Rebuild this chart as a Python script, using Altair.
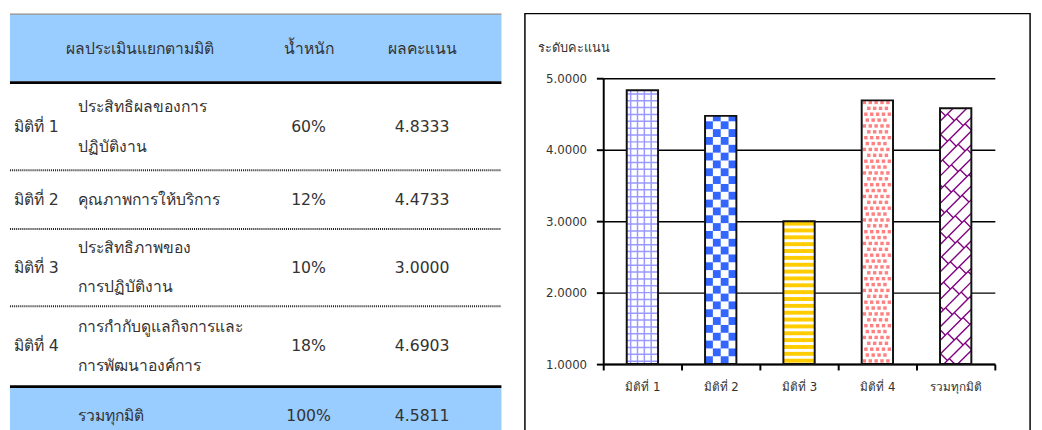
import json
import numpy as np
import pandas as pd
import altair as alt

# ---------------- data ----------------
categories = ["มิติที่ 1", "มิติที่ 2", "มิติที่ 3", "มิติที่ 4", "รวมทุกมิติ"]
descriptions = ["ประสิทธิผลของการ\nปฏิบัติงาน", "คุณภาพการให้บริการ",
                "ประสิทธิภาพของ\nการปฏิบัติงาน", "การกำกับดูแลกิจการและ\nการพัฒนาองค์การ",
                "รวมทุกมิติ"]
weights = ["60%", "12%", "10%", "18%", "100%"]
scores = [4.8333, 4.4733, 3.0000, 4.6903, 4.5811]
headers = ["ผลประเมินแยกตามมิติ", "น้ำหนัก", "ผลคะแนน"]
y_title = "ระดับคะแนน"
y_ticks = [1, 2, 3, 4, 5]
x_ticks = [0, 1, 2, 3, 4, 5]

FONT = "Tahoma, 'DejaVu Sans', sans-serif"
TEXT = "#333333"
BLUE = "#99ccff"

# ---------------- layout constants ----------------
PW, PH = 400, 292          # plot area of the bar chart
TOP_OFF = 66               # distance from box top to plot top
LEFT_OFF = 80              # distance from box left to plot left

# ---------------- table panel ----------------
TW = 502
sec_h = [72, 88, 60, 79, 82, 60]          # header, 4 rows, footer
bnd = np.concatenate([[0], np.cumsum(sec_h)]).astype(float)
TH = int(bnd[-1])
col_x = {"dim": 4, "desc": 70, "head": 57, "weight": 305, "score": 421}
LINE_H = 40


def mid(k):
    return (bnd[k] + bnd[k + 1]) / 2


def add_cell(cells, x, yc, text):
    lines = text.split("\n")
    n = len(lines)
    for j, ln in enumerate(lines):
        cells.append({"x": x, "y": yc + (j - (n - 1) / 2) * LINE_H, "t": ln})


left_cells, center_cells = [], []
add_cell(left_cells, col_x["head"], mid(0), headers[0])
add_cell(center_cells, col_x["weight"], mid(0), headers[1])
add_cell(center_cells, col_x["score"], mid(0), headers[2])
for i in range(5):
    yk = mid(i + 1)
    if i < 4:
        add_cell(left_cells, col_x["dim"], yk, categories[i])
    add_cell(left_cells, col_x["desc"], yk, descriptions[i])
    add_cell(center_cells, col_x["weight"], yk, weights[i])
    add_cell(center_cells, col_x["score"], yk, f"{scores[i]:.4f}")

tx = alt.Scale(domain=[0, TW], nice=False, zero=False)
ty = alt.Scale(domain=[0, TH], nice=False, zero=False, range=[-TOP_OFF, TH - TOP_OFF])

bands_df = pd.DataFrame({"x": [0, 0], "x2": [TW, TW],
                         "y": [bnd[0] + 1, bnd[5] + 1.5], "y2": [bnd[1] - 3, bnd[6]]})
bands = alt.Chart(bands_df).mark_rect(color=BLUE).encode(
    x=alt.X("x:Q", scale=tx, axis=None), x2="x2:Q",
    y=alt.Y("y:Q", scale=ty, axis=None), y2="y2:Q")

gray_df = pd.DataFrame({"x": [0], "x2": [TW], "y": [bnd[0] + 0.5]})
black_df = pd.DataFrame({"x": [0, 0], "x2": [TW, TW], "y": [bnd[1] - 1.5, bnd[5]]})
dot_df = pd.DataFrame({"x": [0] * 3, "x2": [TW] * 3, "y": [bnd[2], bnd[3], bnd[4]]})


def hrule(df, **kw):
    return alt.Chart(df).mark_rule(**kw).encode(
        x=alt.X("x:Q", scale=tx, axis=None), x2="x2:Q",
        y=alt.Y("y:Q", scale=ty, axis=None))


rules = [hrule(gray_df, color="#8a8a8a", strokeWidth=1.2),
         hrule(black_df, color="#000000", strokeWidth=3),
         hrule(dot_df, color="#222222", strokeWidth=2, strokeDash=[1, 1])]


def text_layer(cells, align):
    return alt.Chart(pd.DataFrame(cells)).mark_text(
        align=align, baseline="middle", fontSize=16, color=TEXT, font=FONT).encode(
        x=alt.X("x:Q", scale=tx, axis=None),
        y=alt.Y("y:Q", scale=ty, axis=None),
        text="t:N")


table = alt.layer(bands, *rules, text_layer(left_cells, "left"),
                  text_layer(center_cells, "center")).properties(width=TW, height=TH - TOP_OFF)

# ---------------- bar chart panel ----------------
XU = PW / 5.0
YU = PH / 4.0
BL, BR = 0.3, 0.7
BW = (BR - BL) * XU

bars_df = pd.DataFrame({"cat": categories, "i": range(5), "score": scores})
bars_df["x0"] = bars_df["i"] + BL
bars_df["x1"] = bars_df["i"] + BR
bars_df["base"] = 1.0


def to_x(i, u):
    return i + BL + u / XU


def to_y(v):
    return 1 + v / YU


def clip(x0, y0, x1, y1, W, H):
    dx, dy = x1 - x0, y1 - y0
    t0, t1 = 0.0, 1.0
    for p, q in ((-dx, x0), (dx, W - x0), (-dy, y0), (dy, H - y0)):
        if p == 0:
            if q < 0:
                return None
        else:
            r = q / p
            if p < 0:
                t0 = max(t0, r)
            else:
                t1 = min(t1, r)
    if t0 >= t1:
        return None
    return (x0 + t0 * dx, y0 + t0 * dy, x0 + t1 * dx, y0 + t1 * dy)


tex_rects = []
tex_rules = []
for i, s in enumerate(scores):
    H = (s - 1) * YU
    if i == 0:   # lavender grid
        for u in np.arange(4, BW - 1, 7):
            tex_rules.append((to_x(i, u), to_x(i, u), to_y(0), to_y(H), "#9999ff", 1.5))
        for v in np.arange(3, H - 1, 7):
            tex_rules.append((to_x(i, 0), to_x(i, BW), to_y(v), to_y(v), "#9999ff", 1.5))
    elif i == 1:  # blue checkerboard
        for r in range(int(np.ceil(H / 8))):
            for c in range(4):
                if (r + c) % 2 == 0:
                    tex_rects.append((to_x(i, c * 8), to_x(i, c * 8 + 8),
                                      to_y(r * 8), to_y(min(r * 8 + 8, H)), "#3366ff"))
    elif i == 2:  # yellow stripes
        v = 1.5
        while v < H:
            tex_rects.append((to_x(i, 0), to_x(i, BW), to_y(v), to_y(min(v + 4, H)), "#ffcc00"))
            v += 7
    elif i == 3:  # pink small squares
        offs = [0, 3, 1.5, 4.5]
        r = 0
        while r * 6 + 1.5 < H - 3:
            for c in range(6):
                u = c * 6 + offs[r % 4] + 1
                if u + 3.5 <= BW - 1:
                    tex_rects.append((to_x(i, u), to_x(i, u + 3.5), to_y(r * 6 + 1.5),
                                      to_y(r * 6 + 5), "#ff8080"))
            r += 1
    else:         # purple diagonal brick lattice
        step = 14
        L = 16
        cs = np.arange(-BW - step, H + step, step)
        for k, c0 in enumerate(cs):
            seg = clip(-H - 10, -H - 10 + c0, BW + H + 10, BW + H + 10 + c0, BW, H)
            if seg:
                tex_rules.append((to_x(i, seg[0]), to_x(i, seg[2]), to_y(seg[1]), to_y(seg[3]),
                                  "#800080", 1.4))
            a = -H - 40 + ((k * (step / 2)) % L)
            while a < BW + H + 40:
                seg = clip(a, a + c0, a - step / 2, a + c0 + step / 2, BW, H)
                if seg:
                    tex_rules.append((to_x(i, seg[0]), to_x(i, seg[2]), to_y(seg[1]),
                                      to_y(seg[3]), "#800080", 1.4))
                a += L

tex_rects_df = pd.DataFrame(tex_rects, columns=["x", "x2", "y", "y2", "c"])
tex_rules_df = pd.DataFrame(tex_rules, columns=["x", "x2", "y", "y2", "c", "w"])

sx = alt.Scale(domain=[0, 5], nice=False, zero=False)
sy = alt.Scale(domain=[1, 5], nice=False, zero=False)

label_expr = ("datum.value < 5 ? " + json.dumps(categories, ensure_ascii=False)
              + "[datum.value] : ''")

x_axis = alt.Axis(values=x_ticks, labelExpr=label_expr, labelOffset=40, orient="bottom",
                  labelFlush=False, labelOverlap=False, labelAlign="center",
                  grid=False, domainColor="#000000", domainWidth=2,
                  tickColor="#000000", tickWidth=2, tickSize=6,
                  labelFontSize=12, labelColor=TEXT, labelFont=FONT, labelPadding=12)
y_axis = alt.Axis(values=y_ticks, format=".4f", orient="left", grid=True, gridColor="#000000",
                  labelFlush=False, labelOverlap=False,
                  gridWidth=1.5, domainColor="#000000", domainWidth=2,
                  tickColor="#000000", tickWidth=2, tickSize=7,
                  labelFontSize=12, labelColor=TEXT, labelFont=FONT, labelPadding=10,
                  titleAngle=0, titleAlign="left", titleBaseline="middle",
                  titleX=-67, titleY=-31, titleFontSize=13, titleFontWeight="normal",
                  titleColor=TEXT, titleFont=FONT)


def X(field):
    return alt.X(field, scale=sx, title=None, axis=x_axis)


def Y(field):
    return alt.Y(field, scale=sy, title=y_title, axis=y_axis)


base = alt.Chart(bars_df).mark_rect(color="#ffffff").encode(
    x=X("x0:Q"), x2="x1:Q", y=Y("score:Q"), y2="base:Q")

trect = alt.Chart(tex_rects_df).mark_rect().encode(
    x=X("x:Q"), x2="x2:Q", y=Y("y:Q"), y2="y2:Q",
    color=alt.Color("c:N", scale=None))

trule = alt.Chart(tex_rules_df).mark_rule().encode(
    x=X("x:Q"), x2="x2:Q", y=Y("y:Q"), y2="y2:Q",
    color=alt.Color("c:N", scale=None),
    strokeWidth=alt.StrokeWidth("w:Q", scale=None))

outline = alt.Chart(bars_df).mark_rect(filled=False, stroke="#111111", strokeWidth=2).encode(
    x=X("x0:Q"), x2="x1:Q", y=Y("score:Q"), y2="base:Q")

box = alt.Chart(pd.DataFrame({"k": [0]})).mark_rect(
    fill="#ffffff", fillOpacity=0, stroke="#000000", strokeWidth=1.5).encode(
    x=alt.value(-LEFT_OFF), x2=alt.value(436), y=alt.value(-TOP_OFF), y2=alt.value(364))

bar_chart = alt.layer(base, trect, trule, outline, box).properties(width=PW, height=PH)

chart = alt.hconcat(table, bar_chart, spacing=21).properties(padding=0).configure(
    font=FONT).configure_view(stroke=None)

chart.save("out.html", embed_options={"renderer": "svg", "actions": False})
